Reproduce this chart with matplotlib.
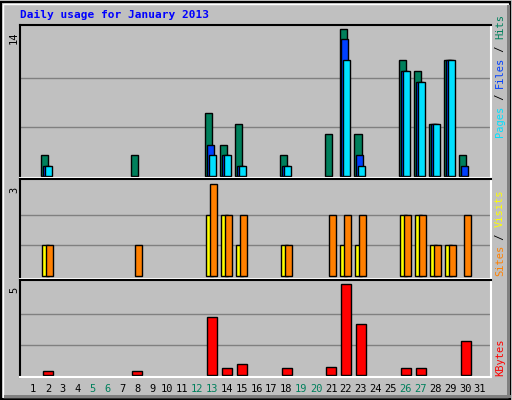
import matplotlib
matplotlib.use("Agg")
import matplotlib.pyplot as plt
from matplotlib.patches import Rectangle
import numpy as np

days = list(range(1, 32))
hits  = [0,2,0,0,0,0,0,2,0,0,0,0,6,3,5,0,0,2,0,0,4,14,4,0,0,11,10,5,11,2,0]
files = [0,1,0,0,0,0,0,0,0,0,0,0,3,2,1,0,0,1,0,0,0,13,2,0,0,10,9,5,11,1,0]
pages = [0,1,0,0,0,0,0,0,0,0,0,0,2,2,1,0,0,1,0,0,0,11,1,0,0,10,9,5,11,0,0]
visits= [0,1,0,0,0,0,0,0,0,0,0,0,2,2,1,0,0,1,0,0,0,1,1,0,0,2,2,1,1,0,0]
sites = [0,1,0,0,0,0,0,1,0,0,0,0,3,2,2,0,0,1,0,0,2,2,2,0,0,2,2,1,1,2,0]
kbytes= [0,0.24,0,0,0,0,0,0.24,0,0,0,0,3.17,0.4,0.62,0,0,0.4,0,0,0.45,5.0,2.79,0,0,0.4,0.4,0,0,1.87,0]
weekend = [5,6,12,13,19,20,26,27]

W, H = 512, 400
fig = plt.figure(figsize=(W/100, H/100), dpi=100)
fig.patch.set_facecolor("#C0C0C0")
FONT = "DejaVu Sans Mono"

fig.patches.append(Rectangle((1/W, 1/H), 509/W, 397/H, transform=fig.transFigure, fill=False, ec="black", lw=1.5))
fig.patches.append(Rectangle((3/W, 3/H), 505/W, 393/H, transform=fig.transFigure, fill=False, ec="white", lw=1))
fig.patches.append(Rectangle((4/W, 2/H), 507/W, 3/H, transform=fig.transFigure, fc="#808080", ec="none"))
fig.patches.append(Rectangle((507/W, 2/H), 3/W, 393/H, transform=fig.transFigure, fc="#808080", ec="none"))

def axes_px(x0, y0, x1, y1):
    return fig.add_axes([x0/W, 1-y1/H, (x1-x0)/W, (y1-y0)/H])

XL = (0.13, 31.7)
x = np.array(days)

def setup(ax, top_px, base_px, y0px, y1px, vmax):
    ppu = (base_px-top_px)/vmax
    ax.set_ylim(-(y1px-base_px)/ppu, vmax+(top_px-y0px)/ppu)
    ax.set_xlim(*XL)
    ax.set_facecolor("#C0C0C0")
    ax.set_xticks([]); ax.set_yticks([])
    for s in ("left", "top"):
        ax.spines[s].set_color("black")
    for s in ("right", "bottom"):
        ax.spines[s].set_color("white")
    for s in ax.spines.values():
        s.set_linewidth(1.5)
    for k in (1, 2):
        ax.axhline(vmax*k/3, color="#808080", lw=1, zorder=0)

kw = dict(align="edge", edgecolor="black", linewidth=1)
def bars(ax, vals, off, width, color):
    v = np.array(vals, dtype=float)
    m = v > 0
    ax.bar(x[m]+off, v[m], width, color=color, **kw)

ax1 = axes_px(20, 25, 491, 178)
setup(ax1, 29, 176, 25, 178, 14)
bars(ax1, hits, -0.45, 0.47, "#00805C")
bars(ax1, files, -0.33, 0.47, "#0040FF")
bars(ax1, pages, -0.2, 0.47, "#00E0FF")

ax2 = axes_px(20, 179, 491, 279)
setup(ax2, 184, 276, 179, 279, 3)
bars(ax2, visits, -0.4, 0.47, "#FFFF00")
bars(ax2, sites, -0.13, 0.47, "#FF8000")

ax3 = axes_px(20, 280, 491, 377)
setup(ax3, 284, 375, 280, 377, 5)
bars(ax3, kbytes, -0.33, 0.67, "#FF0000")

for d in days:
    xf = (33 + (d-1)*14.9)/W
    fig.text(xf, 1-389/H, str(d), ha="center", va="center", fontsize=7.5, family=FONT,
             color="#00805C" if d in weekend else "black")

fig.text(20/W, 1-15/H, "Daily usage for January 2013", fontsize=8, family=FONT,
         weight="bold", color="#0000FF", va="center", ha="left")
for txt, yp in (("14", 32), ("3", 187), ("5", 287)):
    fig.text(14/W, 1-yp/H, txt, rotation=90, fontsize=7.5, family=FONT, ha="center", va="top")

def right_label(parts, ybottom):
    y = ybottom
    for txt, col in parts:
        fig.text(500/W, 1-y/H, txt, rotation=90, fontsize=7.5, family=FONT,
                 color=col, ha="center", va="bottom")
        y -= len(txt)*6.1

right_label([("Pages", "#00E0FF"), (" / ", "#000000"), ("Files", "#0040FF"),
             (" / ", "#000000"), ("Hits", "#00805C")], 137)
right_label([("Sites", "#FF8000"), (" / ", "#000000"), ("Visits", "#FFFF00")], 276)
right_label([("KBytes", "#FF0000")], 376)

fig.savefig("out.png", dpi=100, facecolor=fig.get_facecolor())
